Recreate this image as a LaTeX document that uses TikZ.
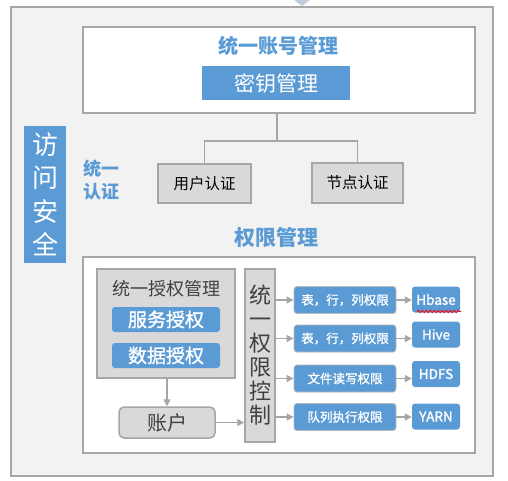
\documentclass[tikz,border=0pt]{standalone}
\usepackage{fontspec}
\setmainfont{Noto Sans CJK SC}
\newfontfamily\med[FakeBold=1.2]{Noto Sans CJK SC}
\usetikzlibrary{arrows.meta,decorations.pathmorphing}
\definecolor{bl}{HTML}{5B9BD5}
\definecolor{bgg}{HTML}{F2F2F2}
\definecolor{bd}{HTML}{A6A6A6}
\definecolor{gf}{HTML}{D9D9D9}
\definecolor{tri}{HTML}{C3CCDC}
\begin{document}
\begin{tikzpicture}[x=1pt,y=-1pt,
  box/.style={rectangle,inner sep=0pt,anchor=center},
  graybox/.style={box,fill=gf,draw=bd,line width=1.2pt},
  bluebox/.style={box,fill=bl,text=white,rounded corners=3pt},
  bluesm/.style={bluebox,draw=bd!80,line width=0.8pt,font=\med\fontsize{12.5}{14}\selectfont,minimum width=102pt,minimum height=27pt},
  bluedb/.style={bluebox,font=\med\fontsize{13.5}{15}\selectfont,minimum width=48pt,minimum height=26pt},
  title/.style={anchor=center,inner sep=0pt,text=bl,font=\bfseries\fontsize{20}{24}\selectfont},
  conn/.style={draw=bd,line width=1.5pt},
  arr/.style={conn,-{Triangle[length=7pt,width=7pt]}}
]
\useasboundingbox (0,0) rectangle (508,480);
% outer area
\node[box,fill=bgg,draw=bd,line width=1.5pt,minimum width=482pt,minimum height=469pt] (outer) at (252,241.5) {};
\fill[tri] (294,0) -- (310,0) -- (302,6) -- cycle;
% top block
\node[box,fill=white,draw=bd,line width=1.5pt,minimum width=392pt,minimum height=86pt] (top) at (279,70) {};
\node[title] (t1) at (278,46) {统一账号管理};
\node[bluebox,rounded corners=0pt,minimum width=148pt,minimum height=34pt,font=\fontsize{21}{24}\selectfont] (mima) at (276,83) {密钥管理};
% left label
\node[box,fill=bl,text=white,minimum width=42pt,minimum height=137pt,align=center,font=\fontsize{26}{33.5}\selectfont] (fangwen) at (45,194.5) {访\\问\\安\\全};
\node[anchor=center,inner sep=0pt,text=bl,align=center,font=\bfseries\fontsize{18}{23}\selectfont] (renz) at (101,180) {统一\\认证};
% auth boxes
\node[graybox,line width=1.5pt,minimum width=93pt,minimum height=39pt,font=\fontsize{15.5}{18}\selectfont] (user) at (204.5,183.5) {用户认证};
\node[graybox,line width=1.5pt,minimum width=91pt,minimum height=40pt,font=\fontsize{15.5}{18}\selectfont] (nodea) at (357.5,183) {节点认证};
\coordinate (j0) at (277,141);
\draw[conn] (top.south -| j0) -- (j0);
\draw[conn] (user.north) |- (j0) -| (nodea.north);
% permission management
\node[title,font=\bfseries\fontsize{21}{24}\selectfont] (t2) at (276,237) {权限管理};
\node[box,fill=white,draw=bd,line width=1.5pt,minimum width=392pt,minimum height=196pt] (bottom) at (279,355) {};
\node[graybox,line width=1.5pt,minimum width=138pt,minimum height=109pt] (authm) at (166,323.5) {};
\node[anchor=center,inner sep=0pt,font=\fontsize{18}{20}\selectfont,text=black!75] (authmt) at (166,289) {统一授权管理};
\node[bluebox,minimum width=108pt,minimum height=25pt,font=\med\fontsize{19}{21}\selectfont] (fuwu) at (166,319.5) {服务授权};
\node[bluebox,minimum width=108pt,minimum height=25pt,font=\med\fontsize{19}{21}\selectfont] (shuju) at (166,355.5) {数据授权};
\node[graybox,line width=1.5pt,rounded corners=5pt,minimum width=96pt,minimum height=31pt,font=\fontsize{20}{22}\selectfont,text=black!75] (zhanghu) at (167,422.5) {账户};
\node[graybox,line width=1.5pt,minimum width=30pt,minimum height=173pt,align=center,font=\fontsize{22}{24}\selectfont,text=black!75] (ctrl) at (260,355.5) {统\\一\\权\\限\\控\\制};
\draw[arr] (authm.south -| zhanghu.north) -- (zhanghu.north);
\draw[arr] (zhanghu.east) -- (zhanghu.east -| ctrl.west);
% permission rows
\node[bluesm] (r1) at (345,300) {表，行，列权限};
\node[bluesm] (r2) at (345,338.5) {表，行，列权限};
\node[bluesm] (r3) at (345,378.5) {文件读写权限};
\node[bluesm] (r4) at (345,417) {队列执行权限};
\node[bluedb] (d1) at (436,299.5) {Hbase};
\node[bluedb] (d2) at (436,334.5) {Hive};
\node[bluedb] (d3) at (436,374) {HDFS};
\node[bluedb] (d4) at (436,416.5) {YARN};
\foreach \i in {1,2,3,4}{
  \draw[arr] (ctrl.east |- r\i.west) -- (r\i.west);
  \draw[arr] (r\i.east) -- (r\i.east -| d\i.west);
}
\draw[red,line width=0.8pt,decorate,decoration={snake,amplitude=1.2pt,segment length=4pt}] (417,311.5) -- (461,311.5);
\end{tikzpicture}
\end{document}
